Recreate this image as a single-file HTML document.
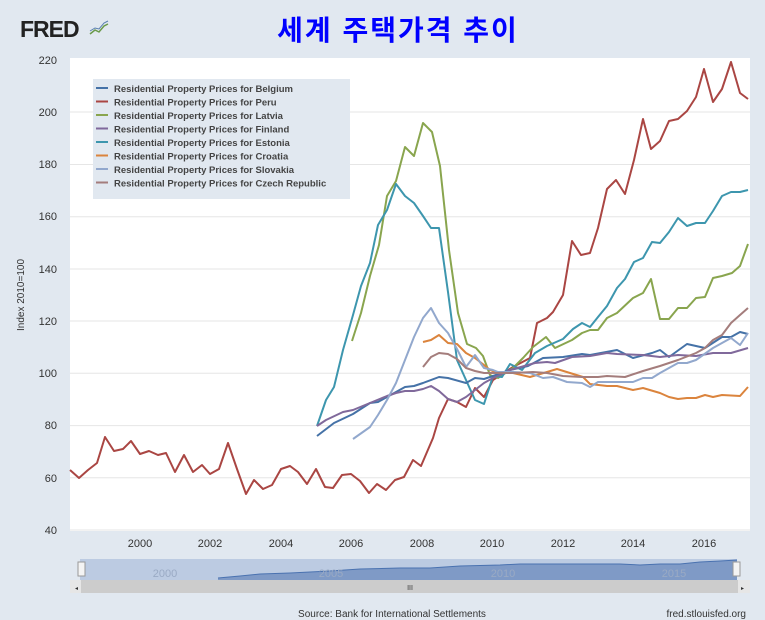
<!DOCTYPE html>
<html><head><meta charset="utf-8"><style>
body{margin:0;width:765px;height:620px;background:#e1e8f0;font-family:"Liberation Sans",sans-serif;overflow:hidden;position:relative}
</style></head><body>
<svg width="765" height="620" xmlns="http://www.w3.org/2000/svg" style="position:absolute;left:0;top:0">
<text x="20" y="37" font-family="Liberation Sans" font-weight="bold" font-size="23" fill="#222" letter-spacing="-1">FRED</text>
<polyline points="90,34 95,30 99,32 104,26 108,24" fill="none" stroke="#6a9a4a" stroke-width="1.5"/>
<polyline points="90,31 95,28 99,29 104,23 108,21" fill="none" stroke="#5a80b0" stroke-width="1"/>
<text x="398" y="40" text-anchor="middle" font-family="'Liberation Sans','Noto Sans CJK KR',sans-serif" font-weight="bold" font-size="28" fill="#0000ff" letter-spacing="2">세계 주택가격 추이</text>
<rect x="70" y="58" width="680" height="473" fill="#fff"/>
<g stroke="#e6e6e6" stroke-width="1">
<line x1="70" x2="750" y1="112" y2="112"/><line x1="70" x2="750" y1="164.5" y2="164.5"/><line x1="70" x2="750" y1="216.7" y2="216.7"/><line x1="70" x2="750" y1="269" y2="269"/><line x1="70" x2="750" y1="321" y2="321"/><line x1="70" x2="750" y1="373.3" y2="373.3"/><line x1="70" x2="750" y1="425.6" y2="425.6"/><line x1="70" x2="750" y1="477.8" y2="477.8"/><line x1="70" x2="750" y1="530" y2="530"/>
</g>
<g font-size="11" fill="#333" text-anchor="end">
<text x="57" y="64">220</text><text x="57" y="116">200</text><text x="57" y="168">180</text><text x="57" y="220">160</text><text x="57" y="273">140</text><text x="57" y="325">120</text><text x="57" y="377">100</text><text x="57" y="429">80</text><text x="57" y="482">60</text><text x="57" y="534">40</text>
</g>
<text transform="translate(24,295) rotate(-90)" font-size="10" fill="#333" text-anchor="middle">Index 2010=100</text>
<g font-size="11" fill="#333" text-anchor="middle">
<text x="140" y="547">2000</text><text x="210" y="547">2002</text><text x="281" y="547">2004</text><text x="351" y="547">2006</text><text x="422" y="547">2008</text><text x="492" y="547">2010</text><text x="563" y="547">2012</text><text x="633" y="547">2014</text><text x="704" y="547">2016</text>
</g>
<g fill="none" stroke-width="2" stroke-linejoin="round">
<polyline stroke="#aa4643" points="70,470 79,478 88,470 97,463 105,437 114,451 123,449 131,441 140,454 149,451 158,455 166,453 175,472 184,455 193,472 202,465 210,474 219,469 228,443 237,469 246,494 254,480 263,489 272,485 281,469 290,466 298,472 307,484 316,469 325,487 333,488 342,475 351,474 360,481 369,493 377,484 386,490 395,480 404,477 413,460 421,466 433,438 439,418 448,399 457,402 466,407 475,388 484,397 493,380 513,367 530,358 537,323 547,318 553,312 563,295 572,241 581,255 590,253 598,228 607,189 616,180 625,194 634,160 643,119 651,149 660,141 669,121 678,119 687,111 696,97 704,69 713,102 722,89 731,62 740,93 748,99"/>
<polyline stroke="#89a54e" points="352,341 361,313 370,276 379,245 387,196 396,181 405,147 414,156 423,123 432,132 440,166 449,250 458,313 467,344 476,348 483,356 490,375 498,378 513,368 523,358 533,347 546,337 555,348 572,340 582,333 590,330 598,330 607,318 617,313 633,298 643,293 651,279 660,319 669,319 678,308 687,308 696,298 705,297 713,278 722,276 732,273 740,266 748,244"/>
<polyline stroke="#3d96ae" points="317,426 326,400 334,387 343,350 353,315 361,286 370,263 378,225 387,210 396,184 405,196 414,203 423,216 431,228 439,228 448,292 457,360 466,380 475,400 484,404 493,376 502,377 510,364 522,370 535,353 547,346 563,339 573,329 582,323 590,327 598,317 607,306 617,288 625,279 634,262 643,258 652,242 660,243 669,232 678,218 687,226 696,223 705,223 713,211 722,196 731,192 740,192 748,190"/>
<polyline stroke="#4572a7" points="317,436 334,423 353,414 370,403 378,402 387,397 405,387 414,386 423,383 439,377 448,378 466,383 475,378 484,379 493,376 510,370 528,366 543,358 563,357 582,354 590,355 617,350 633,358 652,353 660,350 669,357 687,344 705,348 722,337 731,337 740,332 748,334"/>
<polyline stroke="#80699b" points="317,426 326,420 343,412 353,410 370,403 387,396 396,393 405,391 414,391 423,389 431,386 439,391 448,399 457,402 466,397 475,390 484,383 493,378 502,374 510,370 535,363 547,362 555,363 572,357 590,356 607,353 617,354 643,355 660,357 678,355 696,356 713,353 731,353 748,348"/>
<polyline stroke="#db843d" points="423,342 431,340 439,335 448,343 457,344 466,353 475,358 484,365 490,370 498,373 513,373 530,377 547,372 557,369 570,373 583,377 590,384 607,386 617,386 633,390 643,388 660,393 669,397 678,399 687,398 696,398 705,395 713,397 722,395 740,396 748,387"/>
<polyline stroke="#92a8cd" points="353,439 370,427 378,415 387,400 396,383 405,360 414,337 423,318 431,308 439,323 448,333 457,349 466,367 475,355 484,368 493,370 498,372 513,372 530,373 543,378 553,377 567,382 582,383 590,387 598,382 617,382 633,382 643,378 652,378 660,373 678,363 687,363 696,360 713,348 731,338 740,345 748,333"/>
<polyline stroke="#a47d7c" points="423,367 431,357 439,353 448,354 457,359 466,368 475,371 484,373 493,373 498,373 513,373 533,372 547,373 563,376 582,377 598,377 607,376 625,377 643,371 660,366 678,360 696,353 705,348 713,340 722,335 731,323 740,315 748,308"/>
</g>
<rect x="93" y="79" width="257" height="120" fill="#e1e8f0"/>
<g stroke-width="2">
<line x1="96" x2="108" y1="88" y2="88" stroke="#4572a7"/><line x1="96" x2="108" y1="101.5" y2="101.5" stroke="#aa4643"/><line x1="96" x2="108" y1="115" y2="115" stroke="#89a54e"/><line x1="96" x2="108" y1="128.5" y2="128.5" stroke="#80699b"/><line x1="96" x2="108" y1="142" y2="142" stroke="#3d96ae"/><line x1="96" x2="108" y1="155.5" y2="155.5" stroke="#db843d"/><line x1="96" x2="108" y1="169" y2="169" stroke="#92a8cd"/><line x1="96" x2="108" y1="182.5" y2="182.5" stroke="#a47d7c"/>
</g>
<g font-size="9.5" font-weight="bold" fill="#444">
<text x="114" y="92">Residential Property Prices for Belgium</text>
<text x="114" y="105.5">Residential Property Prices for Peru</text>
<text x="114" y="119">Residential Property Prices for Latvia</text>
<text x="114" y="132.5">Residential Property Prices for Finland</text>
<text x="114" y="146">Residential Property Prices for Estonia</text>
<text x="114" y="159.5">Residential Property Prices for Croatia</text>
<text x="114" y="173">Residential Property Prices for Slovakia</text>
<text x="114" y="186.5">Residential Property Prices for Czech Republic</text>
</g>
<rect x="80" y="559" width="657" height="21" fill="#bccbe2"/>
<polygon points="218,580 218,578 240,576 260,574 290,573 330,571 360,569 400,568 430,568 460,566 500,565 520,564 550,564 590,564 620,564 640,565 660,564 680,564 700,562 720,561 737,560 737,580" fill="#7f9ac6"/>
<polyline points="218,578 240,576 260,574 290,573 330,571 360,569 400,568 430,568 460,566 500,565 520,564 550,564 590,564 620,564 640,565 660,564 680,564 700,562 720,561 737,560" fill="none" stroke="#4a72b0" stroke-width="1"/>
<g font-size="11" fill="#9aaac4" text-anchor="middle"><text x="165" y="577">2000</text><text x="331" y="577">2005</text><text x="503" y="577">2010</text><text x="674" y="577">2015</text></g>
<rect x="78" y="562" width="7" height="14" fill="#f4f4f4" stroke="#999"/>
<rect x="733" y="562" width="7" height="14" fill="#f4f4f4" stroke="#999"/>
<rect x="70" y="580" width="680" height="13" fill="#e6e6e6"/>
<rect x="81" y="580" width="657" height="13" fill="#cccccc"/>
<text x="410" y="590" font-size="7" fill="#333" text-anchor="middle">III</text>
<text x="75" y="590" font-size="6" fill="#333">◂</text><text x="741" y="590" font-size="6" fill="#333">▸</text>
<text x="392" y="617" font-size="10" fill="#333" text-anchor="middle">Source: Bank for International Settlements</text>
<text x="746" y="617" font-size="10" fill="#333" text-anchor="end">fred.stlouisfed.org</text>
</svg>
</body></html>
